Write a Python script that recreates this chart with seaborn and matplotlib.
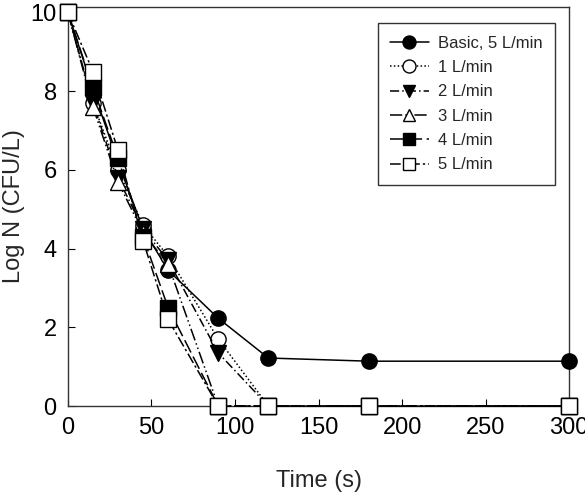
import numpy as np
import pandas as pd
import matplotlib
matplotlib.use("Agg")
from matplotlib import pyplot as plt
import seaborn as sns

# data
time_s = [0, 15, 30, 45, 60, 90, 120, 180, 300]
basic_5 = [10.0, 8.05, 6.2, 4.5, 3.45, 2.23, 1.22, 1.14, 1.14]
lpm_1 = [10.0, 7.7, 6.0, 4.6, 3.8, 1.7, 0.0, 0.0, 0.0]
lpm_2 = [10.0, 7.7, 5.8, 4.5, 3.7, 1.35, 0.0, 0.0, 0.0]
lpm_3 = [10.0, 7.6, 5.7, 4.4, 3.6, 0.0, 0.0, 0.0, 0.0]
lpm_4 = [10.0, 8.1, 6.3, 4.3, 2.5, 0.0, 0.0, 0.0, 0.0]
lpm_5 = [10.0, 8.5, 6.5, 4.2, 2.2, 0.0, 0.0, 0.0, 0.0]

labels = ["Basic, 5 L/min", "1 L/min", "2 L/min", "3 L/min", "4 L/min", "5 L/min"]
series = [basic_5, lpm_1, lpm_2, lpm_3, lpm_4, lpm_5]

sns.set_style("ticks")
plt.rcParams['font.family'] = ['Liberation Sans', 'DejaVu Sans']

fig, ax = plt.subplots(figsize=(5.85, 4.97), dpi=100)
fig.subplots_adjust(left=0.116, right=0.973, top=0.986, bottom=0.183)

# marker, face colour, line style
styles = [
    ("o", "black", "-"),
    ("o", "white", (0, (1, 1.5))),
    ("v", "black", (0, (6, 2, 1, 2))),
    ("^", "white", (0, (8, 2, 1, 2, 1, 2))),
    ("s", "black", (0, (9, 3))),
    ("s", "white", (0, (7, 2, 1.5, 2))),
]

for vals, lab, (mk, fc, ls) in zip(series, labels, styles):
    df = pd.DataFrame({"t": time_s, "y": vals})
    sns.lineplot(data=df, x="t", y="y", ax=ax, color="black", linewidth=1.1,
                 linestyle=ls, marker=mk, markersize=11, markerfacecolor=fc,
                 markeredgecolor="black", markeredgewidth=1.0, label=lab,
                 clip_on=False, zorder=3)

ax.set_xlim(0, 300)
ax.set_ylim(0, 10.14)
ax.set_xticks([0, 50, 100, 150, 200, 250, 300])
ax.set_yticks([0, 2, 4, 6, 8, 10])
ax.tick_params(direction="in", length=5, labelsize=17, colors="black", pad=8)
for sp in ax.spines.values():
    sp.set_visible(True)
    sp.set_color("#333333")
    sp.set_linewidth(1.0)

ax.set_xlabel("Time (s)", fontsize=17, labelpad=22)
ax.set_ylabel("Log N (CFU/L)", fontsize=17, labelpad=4)

leg = ax.legend(loc="upper right", bbox_to_anchor=(0.988, 0.98), fontsize=12,
                frameon=True, fancybox=False, edgecolor="black",
                handlelength=2.3, labelspacing=0.56, borderpad=0.75,
                handletextpad=0.55, markerscale=0.85)
leg.get_frame().set_linewidth(1.0)

plt.savefig("out.png", dpi=100)
